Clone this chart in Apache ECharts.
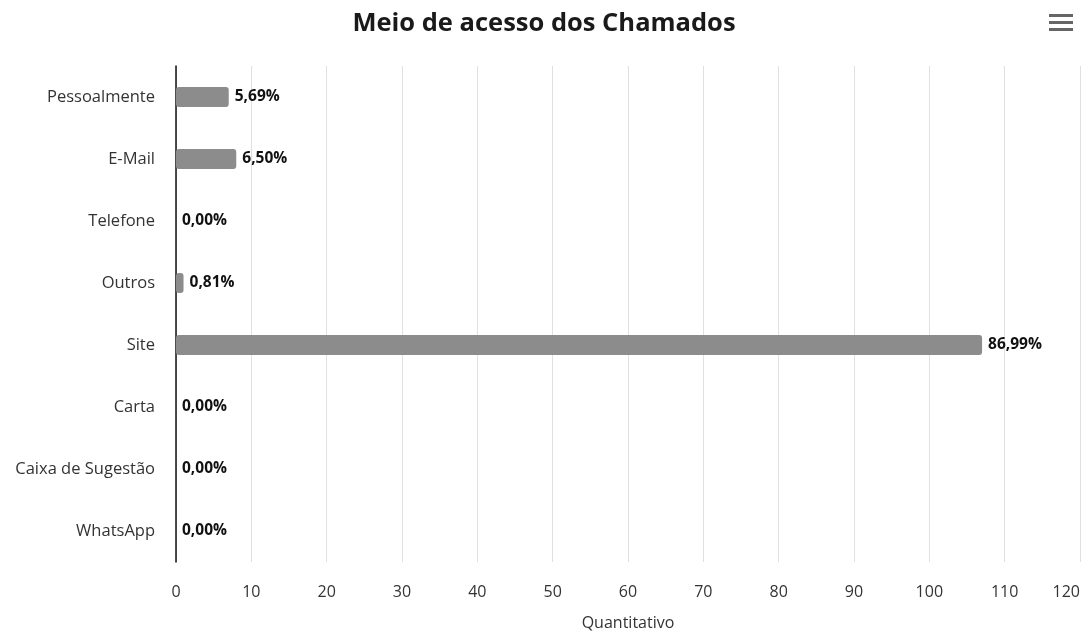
<!DOCTYPE html>
<html>
<head>
<meta charset="utf-8">
<script src="https://cdn.jsdelivr.net/npm/echarts@6/dist/echarts.min.js"></script>
<style>html,body{margin:0;padding:0;background:#fff}#c{width:1088px;height:636px}</style>
</head>
<body>
<div id="c"></div>
<script>
const categories = ['Pessoalmente','E-Mail','Telefone','Outros','Site','Carta','Caixa de Sugestão','WhatsApp'];
const values = [7, 8, 0, 1, 107, 0, 0, 0];
const xTicks = [0,10,20,30,40,50,60,70,80,90,100,110,120];

const total = values.reduce((a,b)=>a+b,0);
const font = '"Open Sans", "Noto Sans", sans-serif';
const chart = echarts.init(document.getElementById('c'));
chart.setOption({
  backgroundColor:'#fff',
  animation:false,
  title:{
    text:'Meio de acesso dos Chamados',
    left:'center', top:6,
    textStyle:{fontFamily:font, fontSize:25.5, fontWeight:'bold', color:'#1a1a1a'}
  },
  toolbox:{
    right:0, top:-1, itemSize:24,
    iconStyle:{color:'#666', borderColor:'#666', borderWidth:0},
    feature:{
      myMenu:{show:true, title:'', icon:'path://M0,0H24V3H0Z M0,7H24V10H0Z M0,14H24V17H0Z', onclick:function(){}}
    }
  },
  grid:{left:176, right:8, top:66, bottom:74, containLabel:false, outerBoundsMode:'none'},
  xAxis:{
    type:'value', min:xTicks[0], max:xTicks[xTicks.length-1], interval:10,
    name:'Quantitativo', nameLocation:'middle', nameGap:53,
    nameTextStyle:{fontFamily:font, fontSize:16, color:'#333'},
    axisLine:{show:false}, axisTick:{show:false},
    axisLabel:{fontFamily:font, fontSize:16, color:'#333', margin:22, alignMaxLabel:'right'},
    splitLine:{show:true, lineStyle:{color:'#e0e0e0', width:1}}
  },
  yAxis:{
    type:'category', data:categories, inverse:true,
    axisLine:{show:true, lineStyle:{color:'#111', width:1.5}},
    axisTick:{show:false},
    axisLabel:{fontFamily:font, fontSize:16.5, color:'#333', margin:21},
    splitLine:{show:false}
  },
  series:[{
    type:'bar', data:values, barWidth:20,
    itemStyle:{color:'#8c8c8c', borderRadius:3},
    label:{
      show:true, position:'right', distance:6,
      fontFamily:font, fontSize:15.5, fontWeight:'bold', color:'#111',
      formatter:function(p){return (p.value/total*100).toFixed(2).replace('.',',')+'%';}
    }
  }]
});
</script>
</body>
</html>
